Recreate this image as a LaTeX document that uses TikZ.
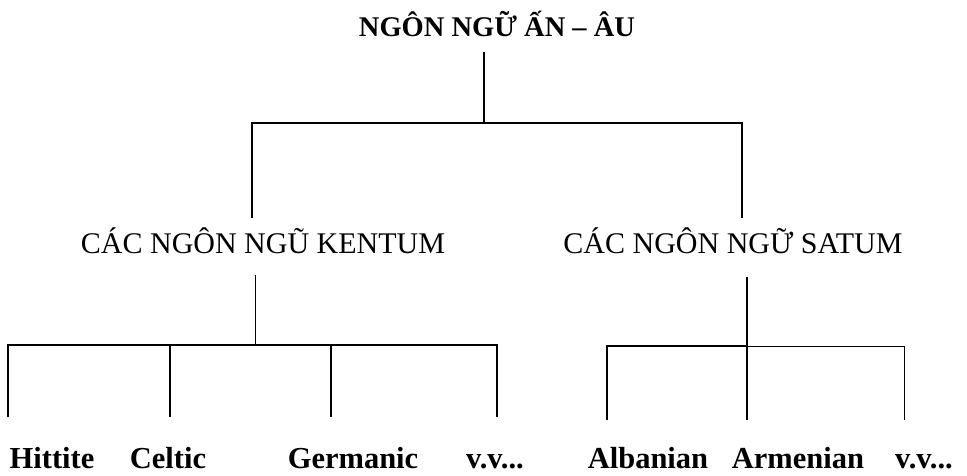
\documentclass[tikz,border=0pt]{standalone}
\usepackage{fontspec}
\setmainfont{Liberation Serif}
\usetikzlibrary{positioning}

\begin{document}
\begin{tikzpicture}[x=1pt, y=-1pt, line width=1.3pt]
		% Estilos de los textos
		\tikzset{familia/.style={anchor=base, inner sep=0pt, font=\bfseries\fontsize{28.5}{30}\selectfont}}
		\tikzset{rama/.style={anchor=base, inner sep=0pt, font=\fontsize{30}{32}\selectfont}}
		\tikzset{lengua/.style={anchor=base, inner sep=0pt, font=\bfseries\fontsize{30.5}{32}\selectfont}}
		
		% Marco de la imagen
		\useasboundingbox (0,0) rectangle (967,476);
		
		% --- Raiz ---
		\node[familia] (indo) at (497,37) {NGÔN NGỮ ẤN – ÂU};
		
		% --- Ramas ---
		\node[rama] (kentum) at (263,253) {CÁC NGÔN NGŨ KENTUM};
		\node[rama] (satum) at (733,253) {CÁC NGÔN NGỮ SATUM};
		
		% --- Lenguas (Kentum) ---
		\node[lengua] (hittite) at (52,468) {Hittite};
		\node[lengua] (celtic) at (168,468) {Celtic};
		\node[lengua] (germanic) at (353,468) {Germanic};
		\node[lengua] (kvv) at (495,468) {v.v...};
		
		% --- Lenguas (Satum) ---
		\node[lengua] (albanian) at (648,468) {Albanian};
		\node[lengua] (armenian) at (798,468) {Armenian};
		\node[lengua] (svv) at (924,468) {v.v...};
		
		% Puntos de union de las lineas
		\coordinate (indo-pie) at (484,52);
		\coordinate (indo-barra) at (484,123);
		\coordinate (kentum-tope) at (252,218);
		\coordinate (satum-tope) at (742,218);
		\coordinate (kentum-pie) at (255,275);
		\coordinate (kentum-barra) at (255,345);
		\coordinate (satum-pie) at (747,277);
		\coordinate (satum-barra) at (747,346);
		
		% --- Lineas del arbol ---
		\draw (indo-pie) -- (indo-barra);
		\draw (kentum-tope) |- (indo-barra) -| (satum-tope);
		
		\draw[line width=0.9pt] (kentum-pie) -- (kentum-barra);
		\draw (kentum-barra) -| (8,417);
		\draw (kentum-barra) -| (497,417);
		\draw (170,345) -- (170,417);
		\draw (331,345) -- (331,417);
		
		\draw (satum-pie) -- (747,420);
		\draw (satum-barra) -| (607,420);
		\draw[line width=1pt] (satum-barra) -| (904,420);
		
	\end{tikzpicture}
\end{document}
